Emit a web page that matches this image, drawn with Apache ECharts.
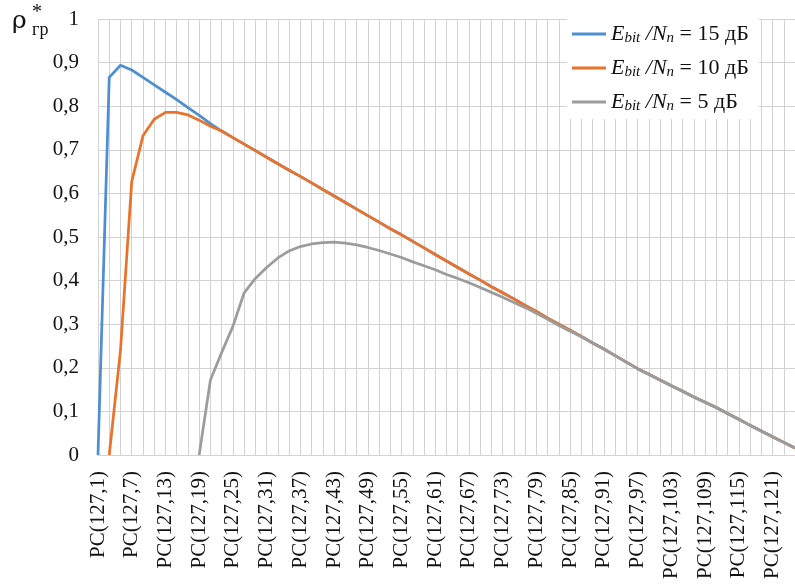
<!DOCTYPE html>
<html>
<head>
<meta charset="utf-8">
<script src="https://cdn.jsdelivr.net/npm/echarts@6/dist/echarts.min.js"></script>
<style>
  html, body { margin: 0; padding: 0; background: #fff; }
  #chart { width: 795px; height: 585px; }
</style>
</head>
<body>
<div id="chart"></div>
<script>
// Information dimension k of the PC(127,k) codes on the horizontal axis
const codeK = [1, 3, 5, 7, 9, 11, 13, 15, 17, 19, 21, 23, 25, 27, 29, 31, 33, 35, 37, 39,
  41, 43, 45, 47, 49, 51, 53, 55, 57, 59, 61, 63, 65, 67, 69, 71, 73, 75, 77, 79,
  81, 83, 85, 87, 89, 91, 93, 95, 97, 99, 101, 103, 105, 107, 109, 111, 113, 115, 117, 119,
  121, 123, 125];
const categories = codeK.map(k => 'PC(127,' + k + ')');

// Signal-to-noise ratios of the three curves, dB
const snrDb = [15, 10, 5];

// ρ*гр for Ebit/Nn = 15 dB
const rho15 = [0, 0.866, 0.894, 0.883, 0.866, 0.849, 0.832, 0.815, 0.797, 0.779,
  0.760, 0.743, 0.728, 0.713, 0.698, 0.683, 0.668, 0.653, 0.639, 0.624,
  0.609, 0.594, 0.579, 0.564, 0.549, 0.534, 0.519, 0.505, 0.490, 0.475,
  0.460, 0.445, 0.430, 0.415, 0.401, 0.386, 0.372, 0.358, 0.343, 0.329,
  0.314, 0.300, 0.286, 0.272, 0.257, 0.243, 0.228, 0.213, 0.198, 0.185,
  0.172, 0.159, 0.146, 0.133, 0.121, 0.109, 0.095, 0.082, 0.068, 0.055,
  0.042, 0.029, 0.016];

// ρ*гр for Ebit/Nn = 10 dB
const rho10 = [null, 0, 0.240, 0.627, 0.732, 0.770, 0.786, 0.786, 0.780, 0.768,
  0.754, 0.743, 0.728, 0.713, 0.698, 0.683, 0.668, 0.653, 0.639, 0.624,
  0.609, 0.594, 0.579, 0.564, 0.549, 0.534, 0.519, 0.505, 0.490, 0.475,
  0.460, 0.445, 0.430, 0.415, 0.401, 0.386, 0.372, 0.358, 0.343, 0.329,
  0.314, 0.300, 0.286, 0.272, 0.257, 0.243, 0.228, 0.213, 0.198, 0.185,
  0.172, 0.159, 0.146, 0.133, 0.121, 0.109, 0.095, 0.082, 0.068, 0.055,
  0.042, 0.029, 0.016];

// ρ*гр for Ebit/Nn = 5 dB
const rho5 = [null, null, null, null, null, null, null, null, null, 0,
  0.172, 0.235, 0.295, 0.372, 0.405, 0.430, 0.452, 0.468, 0.478, 0.484,
  0.487, 0.488, 0.486, 0.482, 0.476, 0.469, 0.461, 0.453, 0.443, 0.434,
  0.425, 0.414, 0.405, 0.395, 0.384, 0.373, 0.362, 0.350, 0.338, 0.325,
  0.311, 0.297, 0.284, 0.271, 0.257, 0.243, 0.228, 0.213, 0.198, 0.185,
  0.172, 0.159, 0.146, 0.133, 0.121, 0.109, 0.095, 0.082, 0.068, 0.055,
  0.042, 0.029, 0.016];

const seriesData = [rho15, rho10, rho5];
const colors = ['#4d8fd0', '#e9732c', '#9c9c9c'];
const serif = '"Liberation Serif", "Times New Roman", serif';
const greekSerif = '"DejaVu Serif", serif';
const textColor = '#111';
const names = snrDb.map(d => 'Ebit/Nn = ' + d + ' дБ');

const chart = echarts.init(document.getElementById('chart'), null, { renderer: 'canvas' });

chart.setOption({
  animation: false,
  backgroundColor: '#fff',
  grid: { left: 98, right: -2, top: 19, bottom: 130, containLabel: false },
  xAxis: {
    type: 'category',
    data: categories,
    boundaryGap: false,
    axisLine: { show: true, lineStyle: { color: '#d2d2d2', width: 1 } },
    axisTick: { show: false },
    axisLabel: {
      interval: 2,
      rotate: 90,
      margin: 16,
      color: textColor,
      fontFamily: serif,
      fontSize: 21
    },
    splitLine: { show: true, interval: 0, lineStyle: { color: '#d2d2d2', width: 1 } }
  },
  yAxis: {
    type: 'value',
    min: 0,
    max: 1,
    interval: 0.1,
    axisLine: { show: false },
    axisTick: { show: false },
    axisLabel: {
      margin: 19,
      color: textColor,
      fontFamily: serif,
      fontSize: 21,
      formatter: v => String(Math.round(v * 10) / 10).replace('.', ',')
    },
    splitLine: { show: true, lineStyle: { color: '#d2d2d2', width: 1 } }
  },
  legend: {
    orient: 'vertical',
    left: 567,
    top: 18,
    padding: [5, 10, 5, 5],
    backgroundColor: '#fff',
    itemWidth: 34,
    itemHeight: 3,
    itemGap: 11,
    icon: 'rect',
    data: names,
    formatter: name => {
      const d = snrDb[names.indexOf(name)];
      return '{i|E}{s|bit}{i| /N}{s|n}{r| = ' + d + ' дБ}';
    },
    textStyle: {
      color: textColor,
      fontFamily: serif,
      rich: {
        i: { fontFamily: serif, fontStyle: 'italic', fontSize: 22, lineHeight: 24, color: textColor },
        s: { fontFamily: serif, fontStyle: 'italic', fontSize: 15, lineHeight: 14, verticalAlign: 'bottom', color: textColor },
        r: { fontFamily: serif, fontSize: 22, lineHeight: 24, color: textColor }
      }
    }
  },
  graphic: [
    { type: 'text', left: 12, top: 9, style: { text: 'ρ', font: '25px ' + greekSerif, fill: textColor } },
    { type: 'text', left: 32, top: 3, style: { text: '*', font: '20px ' + serif, fill: textColor } },
    { type: 'text', left: 32, top: 21, style: { text: 'гр', font: '18px ' + serif, fill: textColor } }
  ],
  series: seriesData.map((data, idx) => ({
    name: names[idx],
    type: 'line',
    data: data,
    showSymbol: false,
    symbol: 'none',
    smooth: false,
    connectNulls: false,
    lineStyle: { color: colors[idx], width: 2.75, join: 'round' },
    itemStyle: { color: colors[idx] }
  }))
});
</script>
</body>
</html>
